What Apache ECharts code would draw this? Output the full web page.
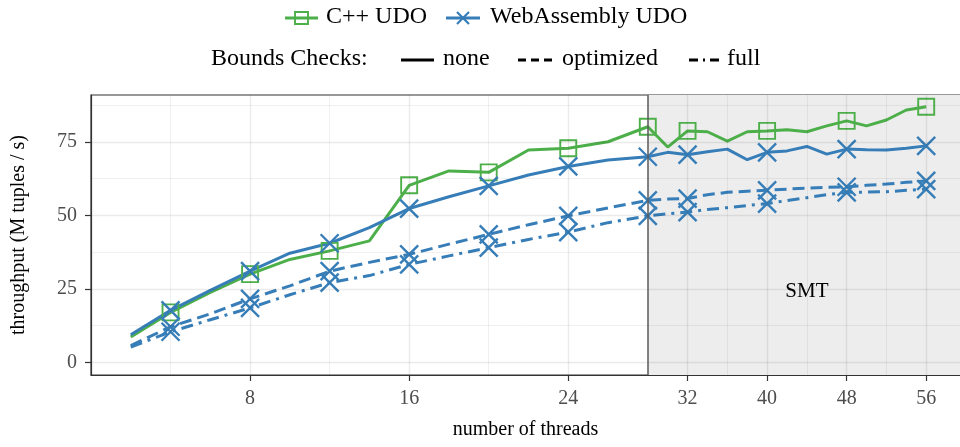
<!DOCTYPE html>
<html>
<head>
<meta charset="utf-8">
<script src="https://cdn.jsdelivr.net/npm/echarts@6/dist/echarts.min.js"></script>
<style>
html,body{margin:0;padding:0;background:#fff;}
#chart{width:960px;height:447px;}
</style>
</head>
<body>
<div id="chart"></div>
<script>
// ---- data ----
const threads = [2,4,6,8,10,12,14,16,18,20,22,24,26,28,30,32,34,36,38,40,42,44,46,48,50,52,54,56];
const cppNone = [8.6,17.0,23.8,30.0,35.0,37.9,41.3,60.2,65.1,64.6,72.2,72.8,75.0,80.1,73.2,78.7,78.4,75.2,78.4,78.7,79.1,78.4,80.4,82.1,80.4,82.4,85.8,86.9];
const wasmNone = [9.4,17.7,24.5,31.0,37.1,40.5,45.8,52.3,56.3,60.0,63.7,66.6,68.8,69.9,71.4,70.6,71.6,72.5,68.9,71.4,71.9,73.4,70.8,72.5,72.3,72.2,72.8,73.6];
const wasmOptimized = [5.7,12.1,16.5,21.6,26.0,31.0,34.0,36.7,40.2,43.5,46.8,49.8,52.5,55.1,55.5,55.7,57.0,57.8,58.2,58.5,58.9,59.2,59.5,59.7,60.2,60.6,61.2,61.7];
const wasmFull = [5.2,10.4,14.5,18.5,23.0,27.1,29.5,33.3,36.2,39.0,41.8,44.3,47.5,49.8,50.5,51.1,52.0,52.6,53.3,54.0,55.0,56.0,57.0,57.8,57.9,58.0,58.5,58.9];
const markerThreads = [4,8,12,16,20,24,28,32,40,48,56];
const xTickThreads = [8,16,24,32,40,48,56];
const xMinorThreads = [4,12,20,36,44,52];
const yTicks = [0,25,50,75];
const yMinor = [12.5,37.5,62.5,87.5];
const smtStart = 28;       // threads where SMT begins (axis is compressed 2:1 beyond)
const smtLabel = {text: 'SMT', threads: 44, value: 24};

// ---- helpers ----
function axisPos(t){ return t <= smtStart ? t : smtStart + (t - smtStart) / 2; }
function axisToThreads(x){ return x <= smtStart ? x : smtStart + (x - smtStart) * 2; }
function pairs(vals){ return threads.map((t,i)=>[axisPos(t), vals[i]]); }
function markerPairs(vals){ return markerThreads.map(t=>[axisPos(t), vals[threads.indexOf(t)]]); }

const GREEN = '#4daf4a', BLUE = '#377eb8';
const FONT = '"Liberation Serif", "Times New Roman", serif';
const X_PATH = 'path://M0,0L10,10M10,0L0,10';
const DASH = [12, 6];
const DOTDASH = [12, 6, 3, 6];
const X_MAX = 43.7;

function lineSeries(name, vals, color, type){
  return {name, type:'line', data: pairs(vals), showSymbol:false, z:3, animation:false,
    lineStyle:{color, width:3, type, cap:'butt'}, itemStyle:{color}};
}
function markerSeries(vals, color, shape){
  const isX = shape === 'x';
  return {type:'scatter', data: markerPairs(vals), z:4, animation:false, silent:true,
    symbol: isX ? X_PATH : 'rect', symbolSize: isX ? 18 : 16,
    itemStyle:{color:'rgba(0,0,0,0)', borderColor:color, borderWidth: isX ? 2.4 : 1.9, opacity:1}};
}
function gridLines(xs, ys, color, width){
  const data = [];
  xs.forEach(v=>data.push({xAxis: axisPos(v)}));
  ys.forEach(v=>data.push({yAxis: v}));
  return {type:'line', data:[], z:2, silent:true, animation:false,
    markLine:{silent:true, animation:false, symbol:['none','none'], label:{show:false},
      lineStyle:{color, width, type:'solid'}, emphasis:{disabled:true}, data}};
}

const chart = echarts.init(document.getElementById('chart'), null, {renderer:'canvas'});
const LFONT = '24px "Liberation Serif", serif';
const option = {
  animation:false,
  textStyle:{fontFamily:FONT},
  grid:{left:91, top:95, width:869, height:280, show:true, backgroundColor:'#ffffff',
        borderColor:'#333333', borderWidth:1.2, containLabel:false},
  xAxis:{type:'value', min:0, max:X_MAX,
    name:'number of threads', nameLocation:'middle', nameGap:45,
    nameTextStyle:{fontFamily:FONT, fontSize:20, color:'#000'},
    axisLine:{show:true, onZero:false, lineStyle:{color:'#333', width:1.2}},
    axisTick:{show:true, length:6, customValues: xTickThreads.map(axisPos), lineStyle:{color:'#333', width:1.2}},
    axisLabel:{customValues: xTickThreads.map(axisPos), margin:14, fontFamily:FONT, fontSize:20, color:'#4d4d4d',
      formatter: v => String(Math.round(axisToThreads(v)))},
    splitLine:{show:false}},
  yAxis:{type:'value', min:-4.3, max:90.9,
    name:'throughput (M tuples / s)', nameLocation:'middle', nameGap:62,
    nameTextStyle:{fontFamily:FONT, fontSize:20, color:'#000'},
    axisLine:{show:true, onZero:false, lineStyle:{color:'#333', width:1.2}},
    axisTick:{show:true, length:6, customValues: yTicks, lineStyle:{color:'#333', width:1.2}},
    axisLabel:{customValues: yTicks, margin:14, fontFamily:FONT, fontSize:20, color:'#4d4d4d'},
    splitLine:{show:false}},
  series:[
    {type:'line', data:[], z:1, silent:true, animation:false,
      markArea:{silent:true, itemStyle:{color:'#ededed'}, label:{show:false},
        data:[[{xAxis: axisPos(smtStart)}, {xAxis: X_MAX}]]}},
    gridLines(xMinorThreads, yMinor, 'rgba(0,0,0,0.06)', 1),
    gridLines(xTickThreads, yTicks, 'rgba(0,0,0,0.08)', 1.4),
    {type:'line', data:[], z:2, silent:true, animation:false,
      markLine:{silent:true, symbol:['none','none'], label:{show:false},
        lineStyle:{color:'#5a5a5a', width:1.5, type:'solid'}, data:[{xAxis: axisPos(smtStart)}]},
      markPoint:{silent:true, symbol:'circle', symbolSize:1, itemStyle:{color:'rgba(0,0,0,0)'},
        label:{show:true, formatter: smtLabel.text, fontFamily:FONT, fontSize:21, color:'#000', position:'inside'},
        data:[{coord:[axisPos(smtLabel.threads), smtLabel.value]}]}},
    lineSeries('C++ UDO', cppNone, GREEN, 'solid'),
    lineSeries('WebAssembly UDO', wasmNone, BLUE, 'solid'),
    lineSeries('WebAssembly UDO optimized', wasmOptimized, BLUE, DASH),
    lineSeries('WebAssembly UDO full', wasmFull, BLUE, DOTDASH),
    markerSeries(cppNone, GREEN, 'square'),
    markerSeries(wasmNone, BLUE, 'x'),
    markerSeries(wasmOptimized, BLUE, 'x'),
    markerSeries(wasmFull, BLUE, 'x')
  ],
  graphic:[
    // legend row 1
    {type:'line', shape:{x1:285,y1:18,x2:318,y2:18}, style:{stroke:GREEN, lineWidth:3}},
    {type:'rect', shape:{x:295,y:12,width:13,height:12}, style:{fill:'rgba(0,0,0,0)', stroke:GREEN, lineWidth:1.9}},
    {type:'text', left:326, top:5, style:{text:'C++ UDO', font:LFONT, fill:'#000'}},
    {type:'line', shape:{x1:446,y1:18,x2:480,y2:18}, style:{stroke:BLUE, lineWidth:3}},
    {type:'line', shape:{x1:457,y1:12,x2:469,y2:24}, style:{stroke:BLUE, lineWidth:2.2}},
    {type:'line', shape:{x1:469,y1:12,x2:457,y2:24}, style:{stroke:BLUE, lineWidth:2.2}},
    {type:'text', left:490, top:5, style:{text:'WebAssembly UDO', font:LFONT, fill:'#000'}},
    // legend row 2
    {type:'text', left:211, top:47, style:{text:'Bounds Checks:', font:LFONT, fill:'#000'}},
    {type:'line', shape:{x1:401,y1:60,x2:434,y2:60}, style:{stroke:'#000', lineWidth:3}},
    {type:'text', left:443, top:47, style:{text:'none', font:LFONT, fill:'#000'}},
    {type:'line', shape:{x1:518,y1:60,x2:552,y2:60}, style:{stroke:'#000', lineWidth:3, lineDash:[8,5]}},
    {type:'text', left:562, top:47, style:{text:'optimized', font:LFONT, fill:'#000'}},
    {type:'line', shape:{x1:689,y1:60,x2:721,y2:60}, style:{stroke:'#000', lineWidth:3, lineDash:[9,5,2,5]}},
    {type:'text', left:727, top:47, style:{text:'full', font:LFONT, fill:'#000'}}
  ]
};
chart.setOption(option);
</script>
</body>
</html>
